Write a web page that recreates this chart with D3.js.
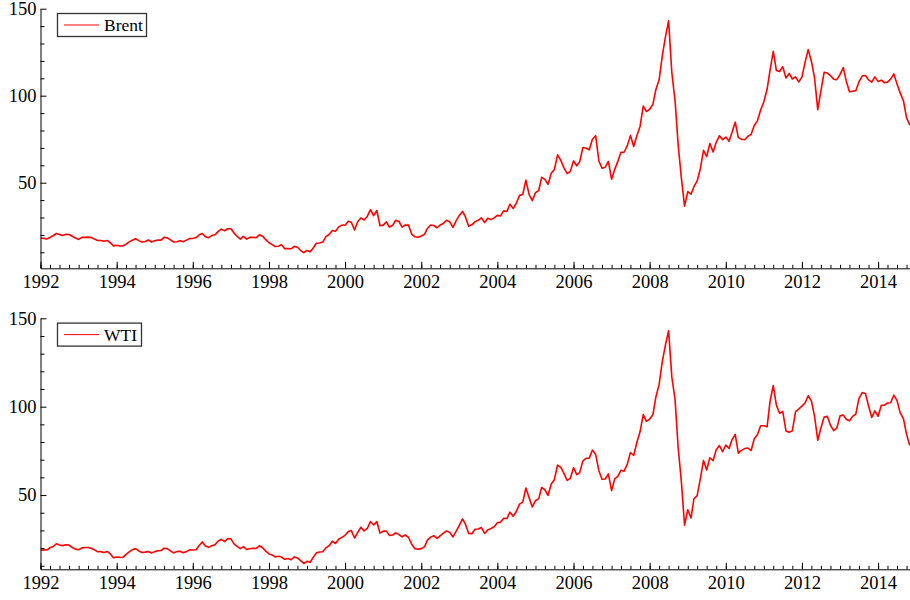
<!DOCTYPE html>
<html>
<head>
<meta charset="utf-8">
<script src="https://cdn.jsdelivr.net/npm/d3@7"></script>
<style>
  body { margin: 0; background: #fff; }
  svg { display: block; font-family: "Liberation Serif", "Times New Roman", serif; }
  .axis path, .axis line { stroke: #000; stroke-width: 1; }
  .axis text { font-size: 18.5px; fill: #000; font-family: "Liberation Serif", serif; }
</style>
</head>
<body>
<div class="chart"></div>
<script>
// monthly values, Jan 1992 .. Nov 2014
const brent = [
  18.2, 18.0, 17.6, 18.5, 19.5, 20.8, 20.2, 19.6, 20.3, 20.2, 19.2, 18.2,
  17.4, 18.6, 18.6, 18.7, 18.5, 17.7, 16.8, 16.8, 16.3, 16.8, 15.5, 13.7,
  14.0, 13.6, 13.6, 14.7, 16.0, 16.9, 17.8, 16.7, 15.9, 16.2, 17.1, 15.9,
  16.6, 17.1, 17.0, 18.6, 18.3, 17.1, 15.9, 16.1, 16.6, 16.1, 17.0, 17.9,
  17.9, 18.5, 19.9, 20.8, 19.0, 18.4, 19.6, 20.1, 22.0, 23.3, 22.4, 23.5,
  23.5, 20.9, 19.2, 17.6, 19.2, 17.6, 18.6, 18.6, 18.4, 20.1, 19.2, 17.3,
  15.5, 14.4, 13.3, 13.5, 14.4, 12.1, 12.1, 12.0, 13.4, 12.9, 11.0, 9.8,
  11.1, 10.3, 12.5, 15.2, 15.3, 15.9, 19.0, 20.2, 22.5, 22.1, 24.6, 25.6,
  25.5, 27.8, 27.3, 22.8, 27.6, 29.7, 28.6, 30.6, 34.5, 31.1, 34.0, 25.3,
  25.6, 27.5, 24.5, 25.5, 28.4, 27.7, 24.5, 25.7, 25.6, 20.5, 18.9, 18.6,
  19.4, 20.3, 23.7, 25.7, 25.4, 24.1, 25.7, 26.6, 28.4, 27.5, 24.3, 28.0,
  31.2, 33.5, 30.3, 25.0, 25.8, 27.6, 28.4, 29.8, 27.1, 29.6, 28.8, 29.8,
  31.2, 30.9, 33.8, 33.4, 37.6, 35.2, 38.2, 42.7, 43.2, 51.5, 43.1, 39.7,
  44.3, 45.5, 53.1, 51.9, 49.0, 55.4, 57.6, 66.0, 62.8, 58.5, 55.2, 56.5,
  62.5, 59.7, 62.1, 70.2, 69.8, 68.9, 75.0, 77.0, 62.5, 58.3, 58.9, 62.2,
  52.0, 57.8, 62.1, 67.5, 67.5, 71.3, 77.2, 70.8, 77.1, 82.3, 94.0, 90.9,
  92.2, 94.9, 103.6, 109.1, 122.8, 134.0, 143.0, 113.2, 97.2, 71.6, 52.5, 36.5,
  44.9, 43.4, 47.7, 51.0, 57.9, 68.6, 64.9, 72.5, 67.7, 73.2, 77.0, 74.7,
  76.2, 73.8, 78.8, 84.8, 75.9, 75.0, 74.7, 76.7, 77.8, 82.9, 85.7, 91.8,
  96.5, 103.7, 114.6, 125.5, 114.5, 113.9, 116.7, 110.2, 112.8, 109.6, 110.8, 107.9,
  110.7, 119.3, 126.5, 119.8, 110.3, 92.0, 102.6, 113.4, 113.0, 111.5, 109.5, 109.2,
  112.3, 116.1, 108.5, 102.3, 102.6, 102.9, 107.9, 111.3, 111.6, 109.1, 107.8, 110.8,
  108.1, 108.9, 107.5, 107.8, 109.5, 112.5, 106.8, 101.6, 97.1, 87.4, 83.0
];
const wti = [
  18.8, 19.0, 18.9, 20.2, 20.9, 22.4, 21.8, 21.4, 21.9, 21.7, 20.3, 19.4,
  19.1, 20.1, 20.3, 20.3, 19.9, 19.1, 17.9, 18.0, 17.5, 18.1, 16.7, 14.5,
  15.0, 14.8, 14.7, 16.4, 17.9, 19.1, 19.7, 18.4, 17.5, 17.7, 18.1, 17.2,
  18.0, 18.5, 18.6, 19.9, 19.7, 18.4, 17.3, 18.0, 18.2, 17.4, 18.0, 19.0,
  18.9, 19.1, 21.3, 23.5, 21.2, 20.4, 21.3, 21.9, 24.0, 24.9, 23.7, 25.4,
  25.2, 22.2, 21.0, 19.7, 20.8, 19.2, 19.6, 19.9, 19.8, 21.3, 20.2, 18.3,
  16.7, 16.1, 15.0, 15.4, 14.9, 13.7, 14.1, 13.4, 15.0, 14.4, 12.9, 11.3,
  12.5, 12.0, 14.7, 17.3, 17.8, 17.9, 20.1, 21.3, 23.9, 22.6, 25.0, 26.1,
  27.2, 29.4, 29.9, 25.7, 28.8, 31.8, 29.7, 31.2, 35.0, 33.1, 35.0, 28.5,
  29.6, 29.6, 27.2, 27.4, 28.6, 27.6, 26.4, 27.4, 26.0, 22.2, 19.6, 19.4,
  19.7, 20.7, 24.5, 26.2, 27.0, 25.5, 26.9, 28.4, 29.7, 28.9, 26.3, 29.4,
  32.9, 36.5, 33.5, 28.3, 28.1, 30.7, 30.8, 31.6, 28.3, 30.3, 31.1, 32.1,
  34.3, 34.7, 36.8, 36.7, 40.3, 38.0, 40.7, 44.9, 46.0, 54.0, 48.5, 43.3,
  46.8, 48.0, 54.3, 53.0, 49.8, 56.3, 58.7, 67.0, 65.6, 62.3, 58.3, 59.4,
  65.5, 61.6, 62.7, 69.4, 70.8, 70.9, 75.5, 73.0, 63.8, 58.9, 59.1, 62.0,
  52.5, 59.3, 60.4, 64.0, 63.5, 67.5, 74.1, 72.4, 79.9, 85.8, 95.5, 91.7,
  93.0, 95.4, 105.5, 112.6, 125.4, 135.0, 143.0, 116.7, 104.1, 76.6, 57.3, 33.0,
  41.7, 37.0, 47.9, 49.7, 59.0, 69.6, 64.2, 71.1, 69.4, 75.7, 78.0, 74.5,
  78.3, 76.4, 81.2, 84.3, 73.7, 75.3, 76.3, 76.6, 75.2, 81.9, 84.3, 89.2,
  89.2, 88.6, 102.9, 112.0, 100.9, 96.3, 97.3, 86.3, 85.5, 86.3, 97.2, 98.6,
  100.3, 102.2, 106.2, 103.3, 94.7, 81.0, 87.9, 94.1, 94.5, 89.5, 86.5, 87.9,
  94.8, 95.3, 92.9, 92.0, 94.5, 95.8, 104.6, 108.0, 107.5, 100.5, 93.9, 97.6,
  94.6, 100.8, 100.8, 102.1, 102.2, 106.5, 103.6, 96.5, 93.2, 84.4, 78.0
];
const months = d3.timeMonth.range(new Date(1992, 0, 1), new Date(2014, 11, 1));
const panels = [
  { name: "Brent", values: brent, yMin: 0.8, top: 8.7, bottom: 268.3, legendW: 89 },
  { name: "WTI", values: wti, yMin: 8, top: 318.3, bottom: 569.3, legendW: 84 }
];
const majorY = [50, 100, 150];
const minorY = [10, 20, 30, 40, 60, 70, 80, 90, 110, 120, 130, 140];

const width = 910, height = 600;
const svg = d3.select(".chart").append("svg")
  .attr("width", width)
  .attr("height", height);

const x = d3.scaleTime()
  .domain([new Date(1992, 0, 1), new Date(2014, 10, 3)])
  .range([40.5, 910]);

panels.forEach((p, i) => {
  const y = d3.scaleLinear()
    .domain([p.yMin, 150])
    .range([p.bottom, p.top]);

  const g = svg.append("g");

  g.append("clipPath").attr("id", "clip" + i)
    .append("rect")
    .attr("x", 40.5).attr("y", p.top - 5)
    .attr("width", 870).attr("height", p.bottom - p.top + 5);

  const line = d3.line()
    .x((d, j) => x(months[j]))
    .y(d => y(d));

  g.append("path")
    .datum(p.values)
    .attr("clip-path", `url(#clip${i})`)
    .attr("fill", "none")
    .attr("stroke", "#ff0000")
    .attr("stroke-width", 1.6)
    .attr("stroke-linejoin", "round")
    .attr("d", line);

  // x axis: majors every 2 years, minors quarterly
  const xMinor = d3.axisBottom(x)
    .tickValues(d3.timeMonth.every(3).range(new Date(1992, 0, 1), new Date(2014, 11, 1)))
    .tickSize(-3.5)
    .tickFormat("");
  g.append("g")
    .attr("class", "axis")
    .attr("transform", `translate(0,${p.bottom})`)
    .call(xMinor)
    .call(a => a.select(".domain").remove());

  const xAxis = d3.axisBottom(x)
    .tickValues(d3.range(1992, 2015, 2).map(yr => new Date(yr, 0, 1)))
    .tickSize(-6.5)
    .tickSizeOuter(0)
    .tickPadding(7)
    .tickFormat(d3.timeFormat("%Y"));
  g.append("g")
    .attr("class", "axis")
    .attr("transform", `translate(0,${p.bottom})`)
    .call(xAxis);

  // y axis
  const yMinorAxis = d3.axisLeft(y)
    .tickValues(minorY)
    .tickSize(-4)
    .tickFormat("");
  g.append("g")
    .attr("class", "axis")
    .attr("transform", "translate(40.5,0)")
    .call(yMinorAxis)
    .call(a => a.select(".domain").remove());

  const yAxis = d3.axisLeft(y)
    .tickValues(majorY)
    .tickSize(-6)
    .tickSizeOuter(0)
    .tickPadding(4);
  g.append("g")
    .attr("class", "axis")
    .attr("transform", "translate(40.5,0)")
    .call(yAxis);

  // legend
  const ly = p.top + 4.8;
  g.append("rect")
    .attr("x", 57.5).attr("y", ly)
    .attr("width", p.legendW).attr("height", 23)
    .attr("fill", "#fff")
    .attr("stroke", "#333")
    .attr("stroke-width", 1.3);
  g.append("line")
    .attr("x1", 64).attr("x2", 99)
    .attr("y1", ly + 11.5).attr("y2", ly + 11.5)
    .attr("stroke", "#ff0000")
    .attr("stroke-width", 1);
  g.append("text")
    .attr("x", 104).attr("y", ly + 17.5)
    .attr("font-size", "17.5px")
    .text(p.name);
});
</script>
</body>
</html>
